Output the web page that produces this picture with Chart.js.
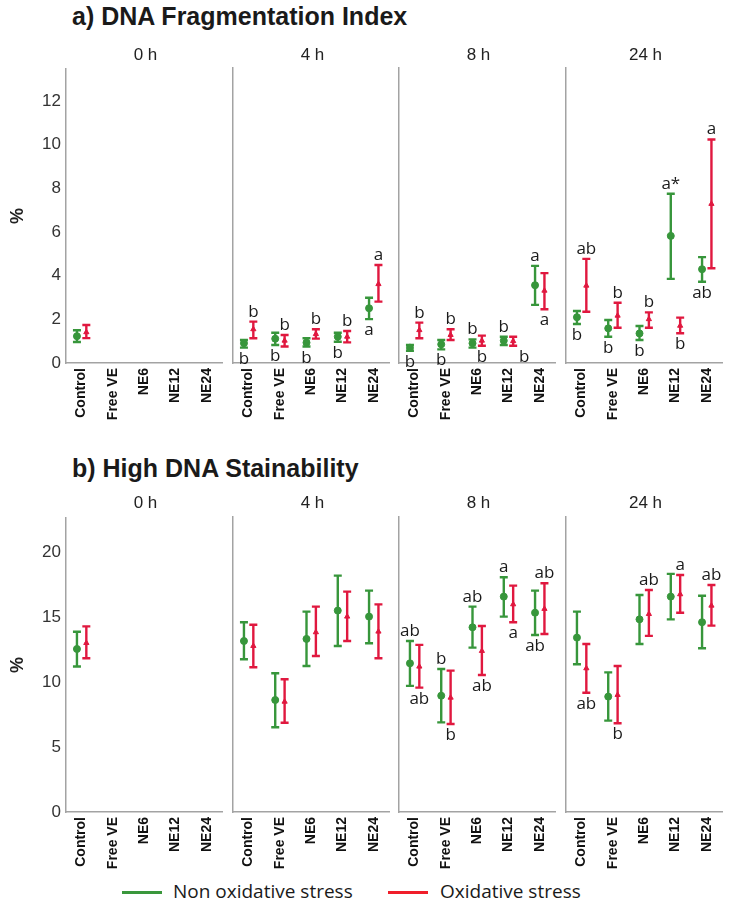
<!DOCTYPE html>
<html>
<head>
<meta charset="utf-8">
<title>DNA Fragmentation Index and High DNA Stainability</title>
<script src="https://cdn.jsdelivr.net/npm/chart.js@4.4.1/dist/chart.umd.min.js"></script>
<style>
  body { margin: 0; background: #fff; }
  #page { position: relative; width: 731px; height: 916px; overflow: hidden; background: #fff;
          font-family: 'Liberation Sans', Arial, sans-serif; color: #222; }
  .panel-title { position: absolute; left: 72px; font-weight: bold; font-size: 25px; line-height: 30px;
                 white-space: nowrap; color: #1a1a1a; }
  .facet-title { position: absolute; width: 159px; text-align: center; font-size: 17px; line-height: 20px; color: #222; }
  canvas { position: absolute; }
  .legend-line { position: absolute; width: 40px; height: 3px; top: 891px; }
  .legend-text { position: absolute; top: 879px; font-family: 'Open Sans', sans-serif; font-size: 19px;
                 line-height: 24px; white-space: nowrap; color: #1a1a1a; }
</style>
</head>
<body>
<div id="page">
  <div class="panel-title" style="top:1px">a) DNA Fragmentation Index</div>
  <div class="panel-title" style="top:453px">b) High DNA Stainability</div>

  <div class="legend-line" style="left:122px; background:#3a973c"></div>
  <div class="legend-text" style="left:173px">Non oxidative stress</div>
  <div class="legend-line" style="left:388px; background:#f01e2a"></div>
  <div class="legend-text" style="left:440px">Oxidative stress</div>
</div>

<script>
const categories = ['Control', 'Free VE', 'NE6', 'NE12', 'NE24'];
const times = ['0 h', '4 h', '8 h', '24 h'];
const dfiTicks = [0, 2, 4, 6, 8, 10, 12];
const hdsTicks = [0, 5, 10, 15, 20];

// a) DNA Fragmentation Index, one row per time point
const dfiNonMean = [
  [1.23, null, null, null, null],
  [0.90, 1.11, 0.93, 1.20, 2.50],
  [0.70, 0.85, 0.90, 1.02, 3.55],
  [2.09, 1.58, 1.35, 5.80, 4.28]];
const dfiNonLow = [
  [0.96, null, null, null, null],
  [0.70, 0.82, 0.75, 0.97, 2.00],
  [0.56, 0.62, 0.70, 0.82, 2.65],
  [1.78, 1.20, 1.05, 3.84, 3.71]];
const dfiNonHigh = [
  [1.50, null, null, null, null],
  [1.05, 1.38, 1.13, 1.38, 2.98],
  [0.82, 1.05, 1.08, 1.20, 4.43],
  [2.37, 1.96, 1.69, 7.72, 4.83]];
const dfiOxMean = [
  [1.41, null, null, null, null],
  [1.54, 1.02, 1.32, 1.20, 3.60],
  [1.50, 1.28, 1.02, 1.00, 3.30],
  [3.53, 2.16, 2.00, 1.70, 7.26]];
const dfiOxLow = [
  [1.14, null, null, null, null],
  [1.13, 0.75, 1.11, 0.94, 2.80],
  [1.13, 1.05, 0.79, 0.79, 2.45],
  [2.34, 1.61, 1.61, 1.36, 4.32]];
const dfiOxHigh = [
  [1.74, null, null, null, null],
  [1.89, 1.28, 1.54, 1.46, 4.47],
  [1.84, 1.54, 1.25, 1.20, 4.10],
  [4.75, 2.75, 2.31, 2.07, 10.20]];
const dfiNonLetters = [
  ['', '', '', '', ''],
  ['b', 'b', 'b', 'b', 'a'],
  ['b', 'b', 'b', 'b', 'a'],
  ['b', 'b', 'b', 'a*', 'ab']];
const dfiOxLetters = [
  ['', '', '', '', ''],
  ['b', 'b', 'b', 'b', 'a'],
  ['b', 'b', 'b', 'b', 'a'],
  ['ab', 'b', 'b', 'b', 'a']];

// b) High DNA Stainability
const hdsNonMean = [
  [12.54, null, null, null, null],
  [13.10, 8.58, 13.26, 15.43, 14.97],
  [11.39, 8.91, 14.15, 16.50, 15.27],
  [13.36, 8.84, 14.76, 16.50, 14.54]];
const hdsNonLow = [
  [11.19, null, null, null, null],
  [11.70, 6.49, 11.19, 12.72, 12.93],
  [9.66, 6.87, 12.59, 14.97, 13.56],
  [11.32, 7.00, 12.87, 14.76, 12.54]];
const hdsNonHigh = [
  [13.87, null, null, null, null],
  [14.54, 10.63, 15.35, 18.11, 16.96],
  [13.10, 10.96, 15.73, 17.98, 16.96],
  [15.35, 10.70, 16.63, 18.24, 16.57]];
const hdsOxMean = [
  [13.00, null, null, null, null],
  [12.72, 8.45, 13.77, 14.97, 13.82],
  [11.14, 8.76, 12.34, 15.91, 15.56],
  [11.01, 8.97, 15.17, 16.68, 15.81]];
const hdsOxLow = [
  [11.83, null, null, null, null],
  [11.09, 6.84, 11.95, 13.10, 11.78],
  [9.53, 6.74, 10.50, 14.54, 13.64],
  [9.14, 6.80, 13.49, 15.27, 14.28]];
const hdsOxHigh = [
  [14.28, null, null, null, null],
  [14.35, 10.17, 15.73, 16.88, 15.91],
  [12.80, 10.83, 14.25, 17.34, 17.52],
  [12.87, 11.19, 17.01, 18.16, 17.39]];
const hdsNonLetters = [
  ['', '', '', '', ''],
  ['', '', '', '', ''],
  ['ab', 'b', 'ab', 'a', 'ab'],
  ['', '', '', '', '']];
const hdsOxLetters = [
  ['', '', '', '', ''],
  ['', '', '', '', ''],
  ['ab', 'b', 'ab', 'a', 'ab'],
  ['ab', 'b', 'ab', 'a', 'ab']];

// where each letter sits: 1 above the bar, -1 below, -2 below and to the right
const dfiNonSide = [[0, 0, 0, 0, 0], [-1, -1, -1, -1, -1], [-1, -1, 1, 1, 1], [-1, -1, -1, 1, -1]];
const dfiOxSide = [[0, 0, 0, 0, 0], [1, 1, 1, 1, 1], [1, 1, -1, -2, -1], [1, 1, 1, -1, 1]];
const hdsNonSide = [[0, 0, 0, 0, 0], [0, 0, 0, 0, 0], [1, 1, 1, 1, -1], [0, 0, 0, 0, 0]];
const hdsOxSide = [[0, 0, 0, 0, 0], [0, 0, 0, 0, 0], [-1, -1, -1, -1, 1], [-1, -1, 1, 1, 1]];

const GREEN = '#37963b';
const RED = '#e0183f';
const AXIS = '#a3a3a3';
const facetLefts = [66, 233, 399, 566];
const facetWidth = 159;
const plotHeight = 295;
const page = document.getElementById('page');

const panels = [
  { plotTop: 68, labelTop: 45, max: 13.46, ticks: dfiTicks,
    nonMean: dfiNonMean, nonLow: dfiNonLow, nonHigh: dfiNonHigh, nonLetters: dfiNonLetters, nonSide: dfiNonSide,
    oxMean: dfiOxMean, oxLow: dfiOxLow, oxHigh: dfiOxHigh, oxLetters: dfiOxLetters, oxSide: dfiOxSide },
  { plotTop: 517, labelTop: 493, max: 22.6, ticks: hdsTicks,
    nonMean: hdsNonMean, nonLow: hdsNonLow, nonHigh: hdsNonHigh, nonLetters: hdsNonLetters, nonSide: hdsNonSide,
    oxMean: hdsOxMean, oxLow: hdsOxLow, oxHigh: hdsOxHigh, oxLetters: hdsOxLetters, oxSide: hdsOxSide }
];

function errorBarPlugin(series) {
  return {
    id: 'errorBars',
    beforeDatasetsDraw(chart) {
      const { ctx, scales: { x, y } } = chart;
      ctx.save();
      ctx.lineWidth = 2.4;
      series.forEach(s => {
        ctx.strokeStyle = s.color;
        s.mean.forEach((m, i) => {
          if (m === null) return;
          const px = x.getPixelForValue(i + s.shift);
          const top = y.getPixelForValue(s.high[i]);
          const bot = y.getPixelForValue(s.low[i]);
          ctx.beginPath();
          ctx.moveTo(px, top); ctx.lineTo(px, bot);
          ctx.moveTo(px - 4, top); ctx.lineTo(px + 4, top);
          ctx.moveTo(px - 4, bot); ctx.lineTo(px + 4, bot);
          ctx.stroke();
        });
      });
      ctx.restore();
    },
    afterDatasetsDraw(chart) {
      const { ctx, scales: { x, y } } = chart;
      ctx.save();
      ctx.font = '17px "Open Sans", sans-serif';
      ctx.fillStyle = '#1a1a1a';
      ctx.textAlign = 'center';
      ctx.textBaseline = 'alphabetic';
      series.forEach(s => {
        s.letters.forEach((txt, i) => {
          if (!txt) return;
          const side = s.side[i];
          let px = x.getPixelForValue(i + s.shift);
          const py = side > 0 ? y.getPixelForValue(s.high[i]) - 5 : y.getPixelForValue(s.low[i]) + 16;
          if (side === -2) px += 11;
          ctx.fillText(txt, px, py);
        });
      });
      ctx.restore();
    }
  };
}

function addFacet(p, t) {
  const first = t === 0;
  const axisW = first ? facetLefts[0] : 6;
  const canvas = document.createElement('canvas');
  canvas.width = axisW + facetWidth + 4;
  canvas.height = 14 + plotHeight + 70;
  canvas.style.left = (first ? 0 : facetLefts[t] - 6) + 'px';
  canvas.style.top = (p.plotTop - 14) + 'px';
  page.appendChild(canvas);

  const label = document.createElement('div');
  label.className = 'facet-title';
  label.textContent = times[t];
  label.style.left = facetLefts[t] + 'px';
  label.style.top = p.labelTop + 'px';
  page.appendChild(label);

  const series = [
    { mean: p.nonMean[t], low: p.nonLow[t], high: p.nonHigh[t], letters: p.nonLetters[t], side: p.nonSide[t],
      color: GREEN, shift: -0.15, style: 'circle', radius: 3.5 },
    { mean: p.oxMean[t], low: p.oxLow[t], high: p.oxHigh[t], letters: p.oxLetters[t], side: p.oxSide[t],
      color: RED, shift: 0.15, style: 'triangle', radius: 3 }
  ];

  const datasets = series.map(s => ({
    data: s.mean.map((v, i) => (v === null ? null : { x: i + s.shift, y: v })).filter(Boolean),
    pointStyle: s.style,
    pointRadius: s.radius,
    pointHoverRadius: s.radius,
    backgroundColor: s.color,
    borderColor: s.color,
    borderWidth: 1,
    showLine: false
  }));

  new Chart(canvas, {
    type: 'scatter',
    data: { datasets },
    options: {
      responsive: false,
      animation: false,
      events: [],
      layout: { padding: { top: 14, right: 4, left: 0, bottom: 0 } },
      plugins: { legend: { display: false }, tooltip: { enabled: false } },
      scales: {
        x: {
          type: 'linear', min: -0.5, max: 4.5,
          afterBuildTicks: s => { s.ticks = categories.map((c, i) => ({ value: i })); },
          afterFit: s => { s.height = 70; },
          grid: { display: true, drawOnChartArea: false, drawTicks: false },
          border: { display: true, color: AXIS, width: 1.5 },
          ticks: {
            minRotation: 90, maxRotation: 90, autoSkip: false, padding: 5, color: '#111',
            font: { family: "'Liberation Sans', Arial, sans-serif", size: 14, weight: 'bold' },
            callback: v => categories[Math.round(v)]
          }
        },
        y: {
          min: 0, max: p.max,
          afterBuildTicks: s => { s.ticks = p.ticks.map(v => ({ value: v })); },
          afterFit: s => { s.width = axisW; },
          grid: { display: true, drawOnChartArea: false, drawTicks: false },
          border: { display: true, color: AXIS, width: 1.5 },
          ticks: {
            display: first, padding: 5, color: '#333',
            font: { family: "'Liberation Sans', Arial, sans-serif", size: 17 }
          },
          title: {
            display: first, text: '%', color: '#222',
            font: { family: "'Liberation Sans', Arial, sans-serif", size: 18, weight: 'bold' },
            padding: { top: 7, bottom: 0 }
          }
        }
      }
    },
    plugins: [errorBarPlugin(series)]
  });
}

panels.forEach(p => times.forEach((_, t) => addFacet(p, t)));
</script>
</body>
</html>
